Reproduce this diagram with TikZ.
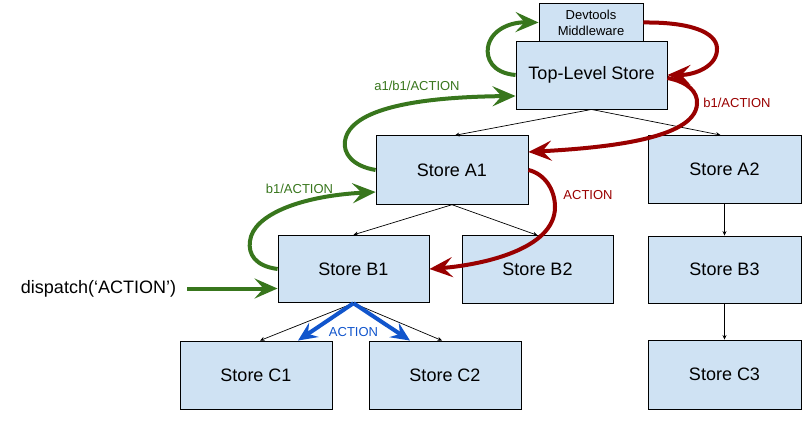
\documentclass[tikz,border=0pt]{standalone}
\usepackage{fontspec}
\setmainfont{Liberation Sans}
\usetikzlibrary{arrows.meta,calc}
\definecolor{boxfill}{HTML}{CFE2F3}
\definecolor{gr}{HTML}{38761D}
\definecolor{rd}{HTML}{990000}
\definecolor{bl}{HTML}{1155CC}
\tikzset{
  store/.style={draw=black, fill=boxfill, line width=0.9pt, minimum width=151pt, minimum height=68pt, inner sep=0pt, font=\fontsize{18}{21}\selectfont},
  thin/.style={draw=black, line width=0.7pt, -{Stealth[length=4.5pt,width=4pt]}},
  thick/.style={line width=4pt, -{Stealth[length=23pt,width=20pt,inset=9pt]}},
  blue head/.style={-{Stealth[length=19pt,width=17pt,inset=7pt]}},
  lbl/.style={font=\fontsize{13}{15}\selectfont, inner sep=0pt},
}
\begin{document}
\begin{tikzpicture}[x=1pt,y=-1pt]
\useasboundingbox (0,0) rectangle (810,420);
% boxes
\node[store, minimum width=104pt, minimum height=39pt, font=\fontsize{13}{16}\selectfont, align=center] (DT) at (591,22.5) {Devtools\\Middleware};
\node[store] (TL) at (591.5,75) {Top-Level Store};
\node[store, minimum width=152pt, minimum height=68.5pt] (A1) at (452,170) {Store A1};
\node[store, minimum width=153pt] (A2) at (724.5,169.5) {Store A2};
\node[store, minimum height=67.5pt] (B1) at (353.5,269) {Store B1};
\node[store, minimum height=67.5pt] (B2) at (537.5,269.5) {Store B2};
\node[store, minimum width=153pt, minimum height=67pt] (B3) at (724.5,269.5) {Store B3};
\node[store, minimum width=152pt] (C1) at (256,375) {Store C1};
\node[store, minimum width=152pt] (C2) at (445,375) {Store C2};
\node[store, minimum width=153pt, minimum height=69pt] (C3) at (724.5,374.5) {Store C3};
\node[font=\fontsize{18}{21}\selectfont, inner sep=0pt] (disp) at (98.5,288.5) {dispatch(‘ACTION’)};
% thin tree arrows
\draw[thin] (TL.south) -- ([xshift=3pt]A1.north);
\draw[thin] (TL.south) -- ([xshift=-4pt]A2.north);
\draw[thin] (A1.south) -- (B1.north);
\draw[thin] (A1.south) -- (B2.north);
\draw[thin] (A2.south) -- (B3.north);
\draw[thin] (B3.south) -- (C3.north);
\draw[thin] (B1.south) -- ([xshift=4pt]C1.north);
\draw[thin] (B1.south) -- ([xshift=-3pt]C2.north);
% green
\draw[thick, gr] ([xshift=11pt]disp.east) -- (B1.west |- disp.east);
\draw[thick, gr] (B1.west) .. controls (255,266) and (248,254) .. (250,241) .. controls (253,215) and (300,196) .. ([yshift=-22pt]A1.west);
\draw[thick, gr] (A1.west) .. controls (352,166) and (343,153) .. (345,141) .. controls (350,108) and (420,97) .. ([yshift=-21pt]TL.west);
\draw[thick, gr] (TL.west) .. controls (492,73) and (486,58) .. (488,47) .. controls (491,30) and (510,22) .. (DT.west);
% red
\draw[thick, rd] (DT.east) .. controls (690,22) and (716,32) .. (717,48) .. controls (718,66) and (695,75) .. (TL.east);
\draw[thick, rd] ([yshift=-3pt]TL.east) .. controls (688,82) and (698,92) .. (697,104) .. controls (695,140) and (600,148) .. ([yshift=18pt]A1.east);
\draw[thick, rd] (A1.east) .. controls (545,174) and (555,190) .. (555,207) .. controls (555,250) and (480,265) .. (B1.east);
% blue
\draw[thick, bl, blue head] (B1.south) -- ([xshift=42pt]C1.north);
\draw[thick, bl, blue head] (B1.south) -- ([xshift=-35pt]C2.north);
% labels
\node[lbl, text=gr] (l1) at (417,86) {a1/b1/ACTION};
\node[lbl, text=gr] (l2) at (299.5,189) {b1/ACTION};
\node[lbl, text=rd] (l3) at (737,103) {b1/ACTION};
\node[lbl, text=rd] (l4) at (588,195) {ACTION};
\node[lbl, text=bl] (l5) at (353.5,332) {ACTION};
\end{tikzpicture}
\end{document}
